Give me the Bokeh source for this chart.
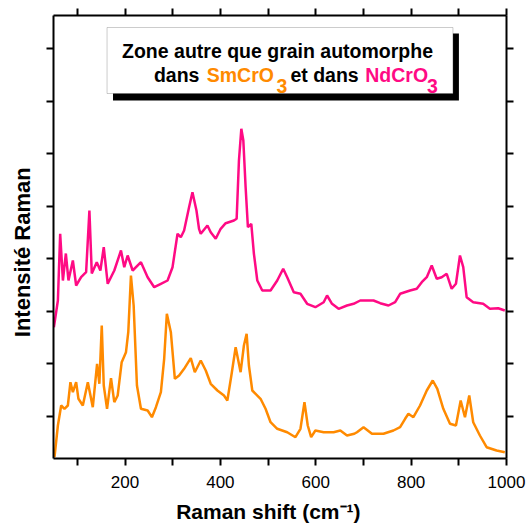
from bokeh.plotting import figure
from bokeh.models import (LinearAxis, FixedTicker, Range1d, Label, BoxAnnotation)
from bokeh.embed import file_html
from bokeh.resources import INLINE

# NdCrO3 (pink) spectrum: Raman shift (cm-1), intensity (a.u.)
nd_shift = [50.8, 59.2, 64.0, 69.7, 75.9, 81.4, 90.6, 97.5, 107.9, 118.4, 125.3, 130.3,
            140.7, 148.3, 155.4, 163.7, 177.5, 191.5, 198.4, 205.5, 216.0, 233.4, 247.4,
            261.2, 275.2, 289.2, 299.6, 310.1, 317.0, 323.9, 334.3, 341.4, 349.8, 355.2,
            358.8, 372.8, 379.7, 390.2, 400.6, 411.1, 428.4, 434.1, 438.9, 443.9, 448.1,
            452.9, 457.7, 464.8, 470.3, 477.4, 487.8, 505.2, 519.2, 531.7, 540.1, 553.9,
            567.9, 581.9, 599.2, 616.6, 623.7, 634.1, 647.9, 665.5, 679.3, 693.3, 721.1,
            735.1, 752.5, 766.5, 776.9, 797.8, 811.8, 822.3, 832.8, 843.2, 853.7, 864.1,
            874.6, 885.0, 894.0, 902.4, 909.3, 916.4, 930.2, 951.1, 965.1, 982.5, 996.5]
nd_int = [141.3, 168, 234.7, 188, 215, 188, 208, 183, 191.3, 196.3, 258, 195,
          206.3, 198, 221.3, 184.7, 198, 218, 201.3, 213, 198, 206.3, 191.3,
          181.3, 184.7, 188, 201.3, 234.7, 231.3, 238, 261.3, 276.3, 258, 239.7,
          234.7, 243, 236.3, 229.7, 239.7, 245.3, 248, 249.7, 308, 339.7, 328,
          281.3, 241.3, 244.7, 214.7, 188, 178, 178, 188, 199.7, 191.3, 176.3,
          174.7, 164.7, 161.3, 166.3, 173, 164.7, 159.7, 163, 164.7, 168, 168,
          165.3, 163, 166.3, 174.7, 178, 179.7, 186.3, 191.3, 203, 189.7, 191.3,
          194.7, 179.7, 184.7, 213, 201.3, 171.3, 166.3, 164.7, 159.7, 160.3, 158]

# SmCrO3 (orange) spectrum
sm_shift = [52.1, 59.2, 66.1, 73.0, 80.1, 85.5, 90.6, 97.5, 102.3, 111.5, 122.0, 132.4,
            141.4, 146.2, 151.2, 155.4, 162.3, 170.6, 177.5, 184.6, 193.0, 202.0, 206.8,
            212.4, 218.1, 225.0, 233.4, 247.4, 256.4, 264.8, 275.2, 282.1, 287.7, 296.1,
            304.5, 313.4, 323.9, 337.9, 346.3, 358.8, 369.3, 379.7, 393.7, 407.5, 414.6,
            423.0, 432.0, 442.4, 449.3, 455.0, 459.8, 466.9, 484.2, 494.7, 505.2, 519.2,
            540.1, 557.4, 567.9, 576.3, 583.2, 590.3, 599.2, 616.6, 637.5, 651.5, 665.5,
            680.8, 686.4, 700.2, 717.8, 742.0, 762.9, 776.9, 787.4, 794.3, 804.7, 818.7,
            832.8, 845.3, 854.9, 867.5, 881.5, 894.0, 903.9, 912.9, 921.9, 930.2, 944.2,
            958.3, 979.2, 996.5]
sm_int = [11.3, 43, 63, 59.7, 63, 86.3, 76.3, 86.3, 69.7, 63, 86.3, 61.3,
          104.7, 84.7, 143, 83, 59.7, 90.3, 66.3, 73, 106.3, 116.3, 136.3,
          193, 163, 83, 59.7, 58, 51.3, 61.3, 76.3, 109.7, 154.7, 136.3,
          89.7, 93, 99.7, 110.3, 96.3, 108, 98, 84.7, 78, 73, 68,
          93, 121.3, 96.3, 123, 134.7, 103, 78, 69.7, 59.7, 46.3, 39.7,
          36.3, 31.3, 39.7, 66.3, 43, 31.3, 38, 36.3, 36.3, 38, 33,
          34.7, 36.3, 41.3, 34.7, 34.7, 38, 41.3, 49.7, 54.7, 51.3, 63,
          78, 88, 79.7, 59.7, 44.7, 43, 68, 51.3, 73, 46.3, 33,
          21.3, 18, 16.3]

x_major = [200, 400, 600, 800, 1000]
x_minor = [100, 300, 500, 700, 900]
y_ticks = [52.5, 105, 157.5, 210, 262.5, 315, 367.5, 420]

PINK = "#ff0a84"
ORANGE = "#ff8a00"
FONT = "Liberation Sans"
NBSP = "\u00a0"

p = figure(width=526, height=530, output_backend="svg", toolbar_location=None,
           x_range=Range1d(50, 1000), y_range=Range1d(10, 453),
           x_axis_location=None, y_axis_location=None)
p.min_border_left = 53
p.min_border_right = 20
p.min_border_top = 15
p.min_border_bottom = 72
p.outline_line_color = None
p.grid.visible = False
p.background_fill_color = "white"
p.border_fill_color = "white"

def style_axis(ax, labels):
    ax.axis_line_width = 2
    ax.axis_line_color = "black"
    ax.major_tick_line_width = 2
    ax.minor_tick_line_width = 2
    ax.major_tick_in = 0
    ax.minor_tick_in = 0
    ax.major_tick_out = 7
    ax.minor_tick_out = 7
    if not labels:
        ax.major_label_text_font_size = "1px"
        ax.major_label_text_color = None
        ax.major_label_standoff = 0
    else:
        ax.major_label_text_font = FONT
        ax.major_label_text_font_size = "17px"
        ax.major_label_text_color = "black"
        ax.major_label_standoff = 10
    ax.axis_label_text_font = FONT
    ax.axis_label_text_font_style = "bold"
    ax.axis_label_text_color = "black"

xt = FixedTicker(ticks=x_major, minor_ticks=x_minor)
yt = FixedTicker(ticks=y_ticks, minor_ticks=[])

bottom = LinearAxis(ticker=xt, axis_label="Raman shift (cm⁻¹)" + NBSP * 4)
style_axis(bottom, True)
bottom.axis_label_text_font_size = "21px"
bottom.axis_label_standoff = 9
top = LinearAxis(ticker=xt)
style_axis(top, False)
left = LinearAxis(ticker=yt, axis_label="Intensité Raman" + NBSP * 5)
style_axis(left, False)
left.axis_label_text_font_size = "22px"
left.axis_label_standoff = 12
right = LinearAxis(ticker=yt)
style_axis(right, False)

p.add_layout(bottom, "below")
p.add_layout(top, "above")
p.add_layout(left, "left")
p.add_layout(right, "right")

p.line(sm_shift, sm_int, line_color=ORANGE, line_width=2.5)
p.line(nd_shift, nd_int, line_color=PINK, line_width=2.5)

# annotation box with shadow
p.add_layout(BoxAnnotation(left=174.8, right=900.2, top=435, bottom=368,
                           fill_color="black", fill_alpha=1, line_color=None))
p.add_layout(BoxAnnotation(left=162.3, right=887.7, top=441, bottom=375,
                           fill_color="white", fill_alpha=1, line_color="#555555",
                           line_width=1))

def lab(x, y, t, color="black", align="left"):
    p.add_layout(Label(x=x, y=y, text=t, text_color=color, text_font=FONT,
                       text_font_style="bold", text_font_size="19.5px",
                       text_align=align, text_baseline="alphabetic"))

lab(519.8, 418, "Zone autre que grain automorphe", align="center")
lab(260.5, 394, "dans")
lab(371.3, 394, "SmCrO", ORANGE)
lab(517.7, 383, "3", ORANGE)
lab(546.9, 394, "et dans")
lab(703.8, 394, "NdCrO", PINK)
lab(833.4, 383, "3", PINK)

open("out.html", "w").write(file_html(p, INLINE))
